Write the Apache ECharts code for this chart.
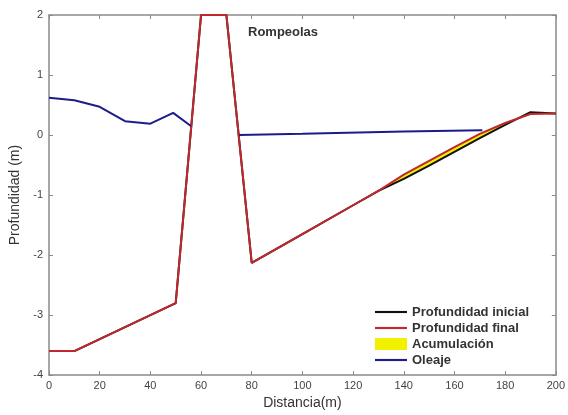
<!DOCTYPE html>
<html>
<head>
<meta charset="utf-8">
<script src="https://cdn.jsdelivr.net/npm/echarts@6/dist/echarts.min.js"></script>
<style>
  html, body { margin: 0; padding: 0; background: #fff; }
  #chart { width: 568px; height: 415px; }
</style>
</head>
<body>
<div id="chart"></div>
<script>
// perfil del fondo (distancia m, profundidad m)
const distPerfil = [0, 10, 50, 60, 70, 80, 100, 120, 130, 140, 150, 160, 170, 180, 190, 200]
const profInicial = [-3.6, -3.6, -2.8, 2, 2, -2.13, -1.65, -1.17, -0.93, -0.73, -0.51, -0.28, -0.05, 0.17, 0.38, 0.36]
const profFinal = [-3.6, -3.6, -2.8, 2, 2, -2.13, -1.65, -1.17, -0.93, -0.66, -0.43, -0.2, 0.02, 0.2, 0.35, 0.36]

// oleaje, dos tramos separados por el rompeolas
const distOleaje = [0, 10, 20, 30, 40, 49, 56, null, 75, 100, 140, 171]
const nivelOleaje = [0.62, 0.58, 0.47, 0.23, 0.19, 0.37, 0.15, null, 0.0, 0.02, 0.06, 0.08]

const xTicks = { min: 0, max: 200, interval: 20 }
const yTicks = { min: -4, max: 2, interval: 1 }

const colores = {
  inicial: '#111111',
  final: '#c0282d',
  acumulacion: '#f2f200',
  oleaje: '#1c1c8a'
}

const pares = (xs, ys) => xs.map((x, i) => (x === null ? [null, null] : [x, ys[i]]))

const chart = echarts.init(document.getElementById('chart'))

const axisLine = { onZero: false, lineStyle: { color: '#8a8a8a', width: 1.5 } }
const axisTick = { inside: true, length: 4, lineStyle: { color: '#8a8a8a' } }
const labelStyle = { color: '#444', fontSize: 11, fontFamily: 'Liberation Sans' }

const option = {
  animation: false,
  grid: { left: 49, right: 5, top: 15, bottom: 35 },
  legend: {
    orient: 'vertical',
    left: 370,
    top: 300,
    itemGap: 2,
    itemWidth: 32,
    itemHeight: 12,
    textStyle: { fontFamily: 'Liberation Sans', fontWeight: 'bold', fontSize: 13, lineHeight: 14, color: '#333' },
    data: [
      { name: 'Profundidad inicial', icon: 'path://M0,0h30v2h-30z', itemStyle: { color: colores.inicial } },
      { name: 'Profundidad final', icon: 'path://M0,0h30v2h-30z', itemStyle: { color: colores.final } },
      { name: 'Acumulación', icon: 'rect', itemStyle: { color: colores.acumulacion } },
      { name: 'Oleaje', icon: 'path://M0,0h30v2h-30z', itemStyle: { color: colores.oleaje } }
    ]
  },
  graphic: [
    {
      type: 'text',
      left: 248,
      top: 26,
      style: { text: 'Rompeolas', font: 'bold 13px "Liberation Sans"', fill: '#333' }
    }
  ],
  xAxis: [
    {
      type: 'value', ...xTicks,
      name: 'Distancia(m)', nameLocation: 'middle', nameGap: 20,
      nameTextStyle: { fontFamily: 'Liberation Sans', fontSize: 14, color: '#333' },
      axisLine, axisTick, axisLabel: { ...labelStyle, margin: 5 },
      splitLine: { show: false }
    },
    {
      type: 'value', ...xTicks, position: 'top',
      axisLine, axisTick, axisLabel: { show: false }, splitLine: { show: false }
    }
  ],
  yAxis: [
    {
      type: 'value', ...yTicks,
      name: 'Profundidad (m)', nameLocation: 'middle', nameGap: 24,
      nameTextStyle: { fontFamily: 'Liberation Sans', fontSize: 14, color: '#333' },
      axisLine, axisTick, axisLabel: { ...labelStyle, margin: 6 },
      splitLine: { show: false }
    },
    {
      type: 'value', ...yTicks, position: 'right',
      axisLine, axisTick, axisLabel: { show: false }, splitLine: { show: false }
    }
  ],
  series: [
    {
      name: 'Acumulación',
      type: 'custom',
      coordinateSystem: 'cartesian2d',
      data: [[0]],
      z: 1,
      renderItem: (params, api) => {
        const pts = []
        distPerfil.forEach((x, i) => { if (x >= 130) pts.push(api.coord([x, profFinal[i]])) })
        for (let i = distPerfil.length - 1; i >= 0; i--) {
          if (distPerfil[i] >= 130) pts.push(api.coord([distPerfil[i], profInicial[i]]))
        }
        return {
          type: 'polygon',
          shape: { points: pts },
          style: { fill: colores.acumulacion }
        }
      },
      itemStyle: { color: colores.acumulacion }
    },
    {
      name: 'Profundidad inicial',
      type: 'line',
      data: pares(distPerfil, profInicial),
      showSymbol: false,
      z: 2,
      lineStyle: { color: colores.inicial, width: 2 },
      itemStyle: { color: colores.inicial }
    },
    {
      name: 'Profundidad final',
      type: 'line',
      data: pares(distPerfil, profFinal),
      showSymbol: false,
      z: 3,
      lineStyle: { color: colores.final, width: 2 },
      itemStyle: { color: colores.final }
    },
    {
      name: 'Oleaje',
      type: 'line',
      data: pares(distOleaje, nivelOleaje),
      showSymbol: false,
      connectNulls: false,
      z: 4,
      lineStyle: { color: colores.oleaje, width: 2 },
      itemStyle: { color: colores.oleaje }
    }
  ]
}

chart.setOption(option)
</script>
</body>
</html>
